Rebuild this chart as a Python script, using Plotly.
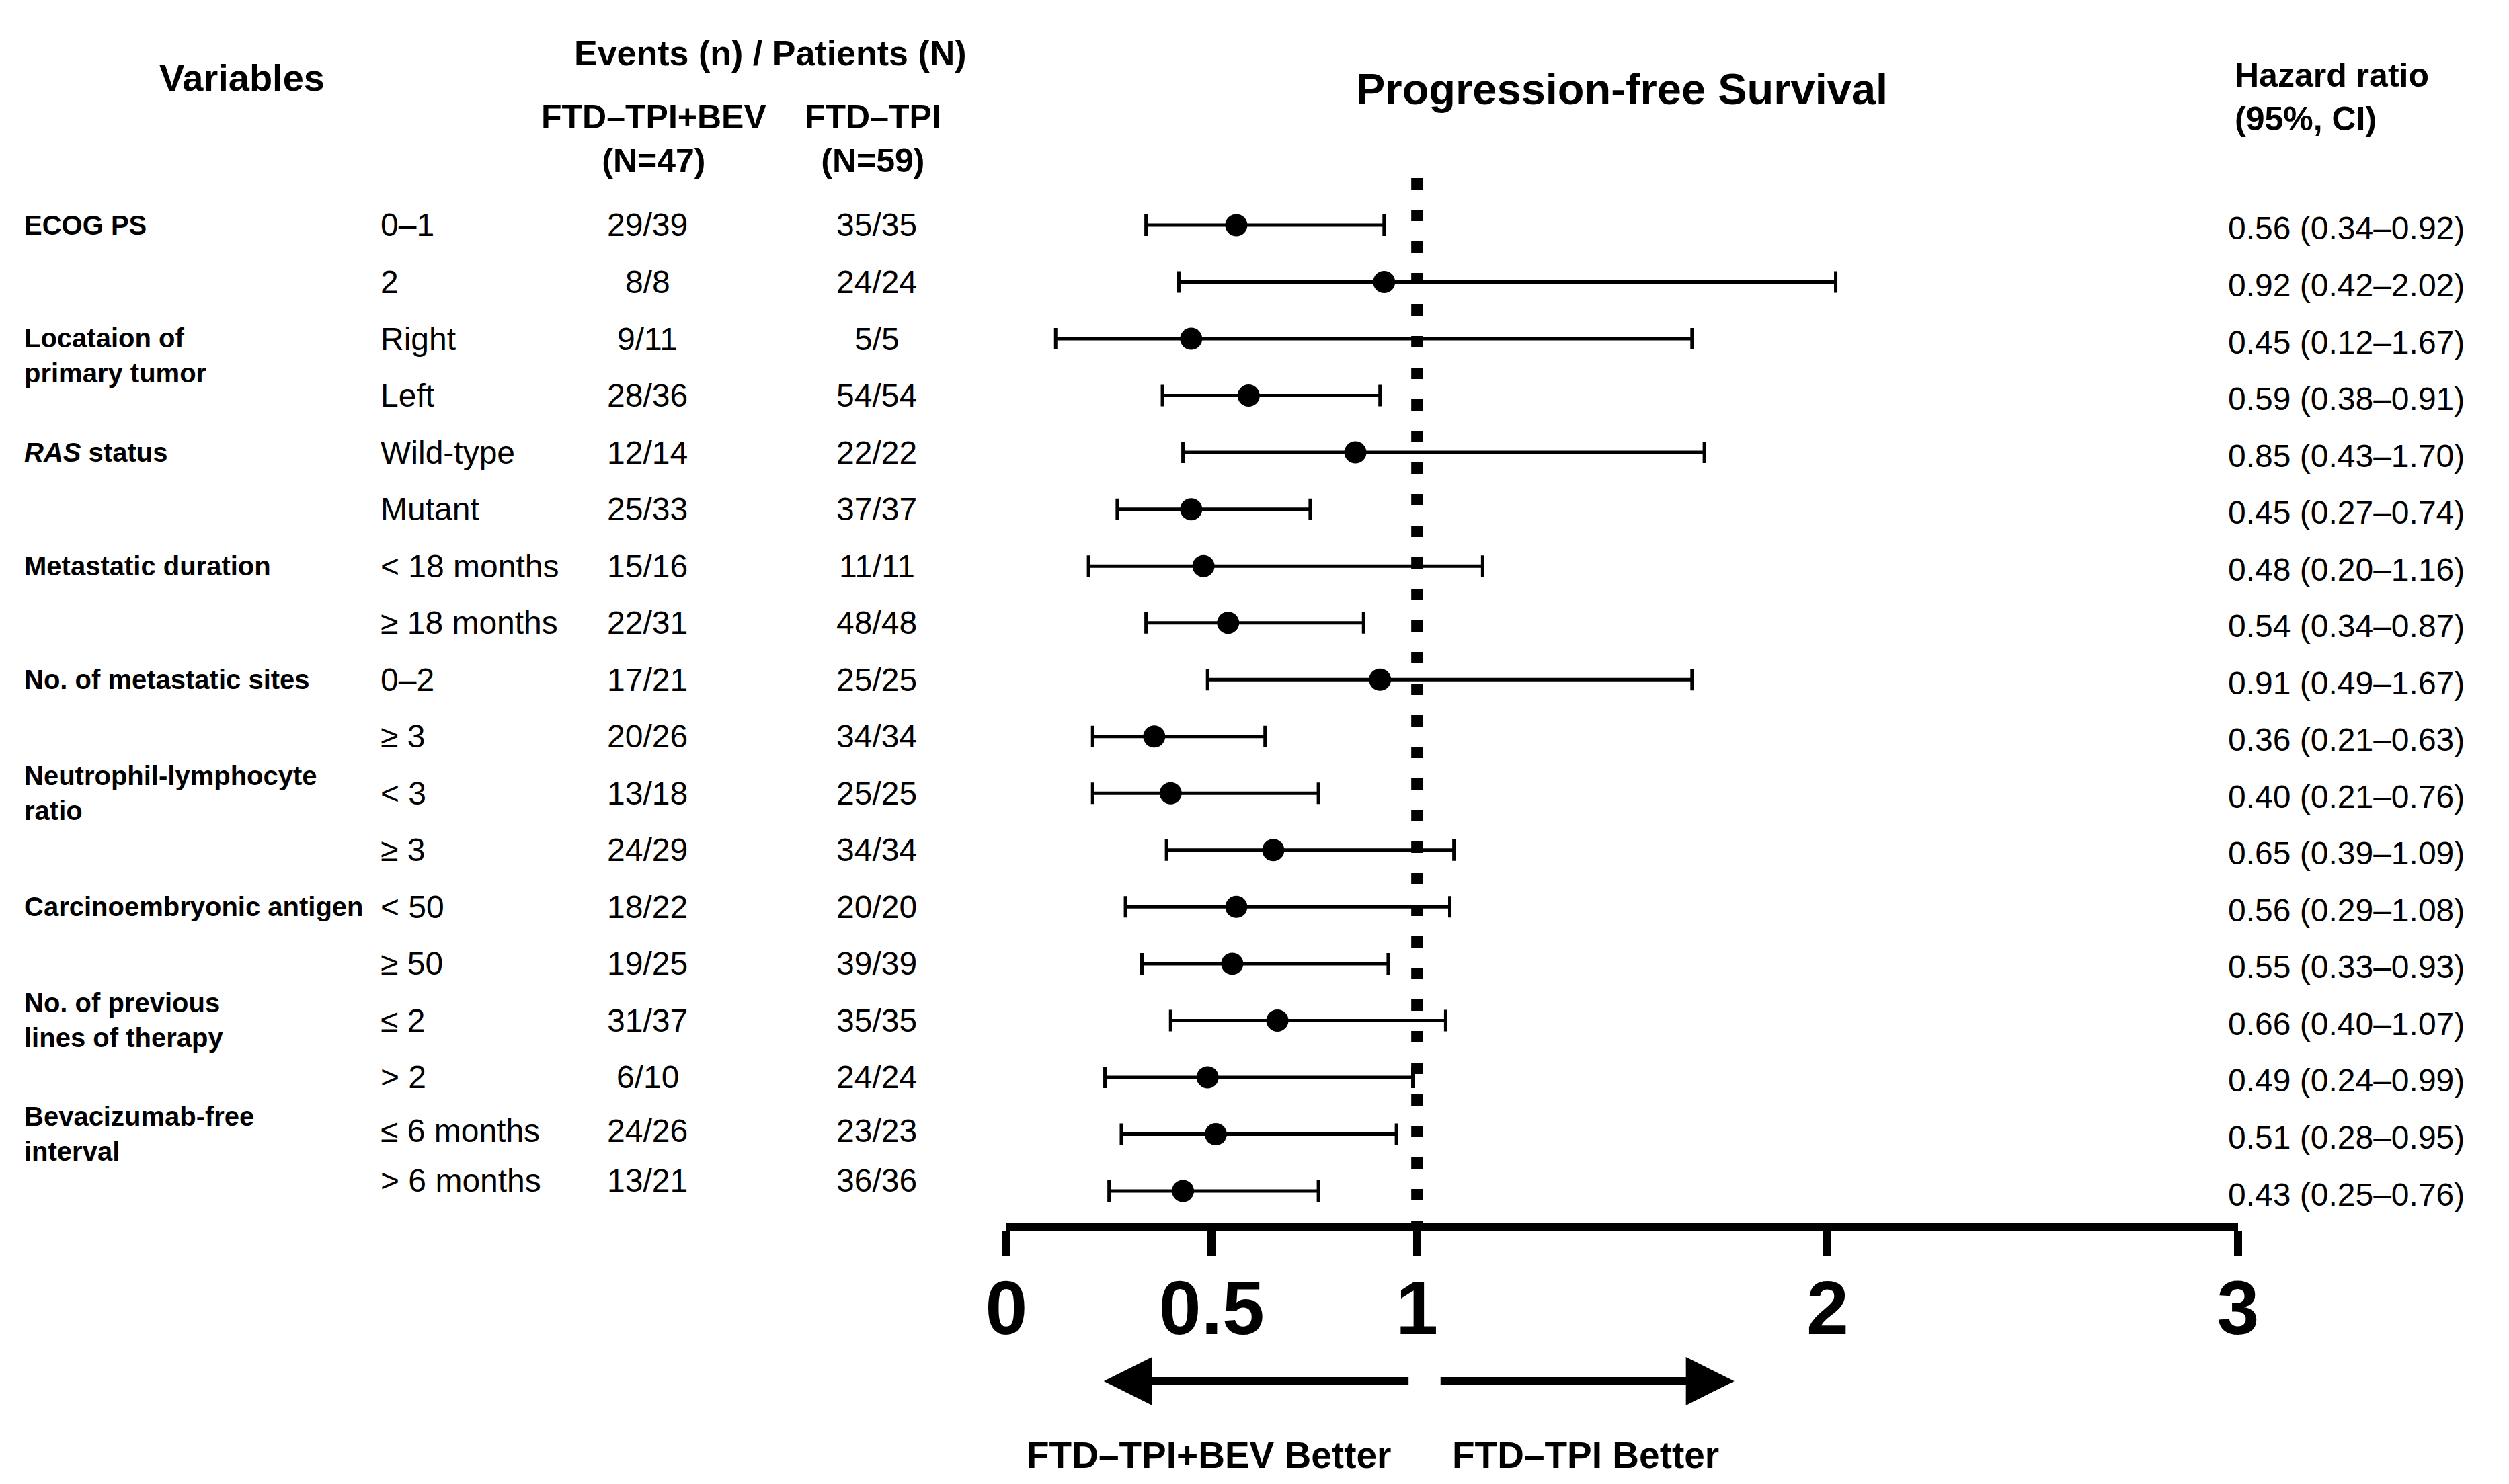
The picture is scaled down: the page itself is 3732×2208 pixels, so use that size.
import plotly.graph_objects as go

# ---------------- data ----------------
group_labels = ["ECOG PS", "Locataion of<br>primary tumor", "<i>RAS</i> status", "Metastatic duration",
                "No. of metastatic sites", "Neutrophil-lymphocyte<br>ratio", "Carcinoembryonic antigen",
                "No. of previous<br>lines of therapy", "Bevacizumab-free<br>interval"]
group_rows = [0, 2, 4, 6, 8, 10, 12, 14, 16]

subgroups = ["0–1", "2", "Right", "Left", "Wild-type", "Mutant", "< 18 months", "≥ 18 months",
             "0–2", "≥ 3", "< 3", "≥ 3", "< 50", "≥ 50", "≤ 2", "> 2", "≤ 6 months", "> 6 months"]
events_bev = ["29/39", "8/8", "9/11", "28/36", "12/14", "25/33", "15/16", "22/31", "17/21",
              "20/26", "13/18", "24/29", "18/22", "19/25", "31/37", "6/10", "24/26", "13/21"]
events_tpi = ["35/35", "24/24", "5/5", "54/54", "22/22", "37/37", "11/11", "48/48", "25/25",
              "34/34", "25/25", "34/34", "20/20", "39/39", "35/35", "24/24", "23/23", "36/36"]
hr = [0.56, 0.92, 0.45, 0.59, 0.85, 0.45, 0.48, 0.54, 0.91, 0.36, 0.40, 0.65, 0.56, 0.55, 0.66, 0.49, 0.51, 0.43]
ci_low = [0.34, 0.42, 0.12, 0.38, 0.43, 0.27, 0.20, 0.34, 0.49, 0.21, 0.21, 0.39, 0.29, 0.33, 0.40, 0.24, 0.28, 0.25]
ci_high = [0.92, 2.02, 1.67, 0.91, 1.70, 0.74, 1.16, 0.87, 1.67, 0.63, 0.76, 1.09, 1.08, 0.93, 1.07, 0.99, 0.95, 0.76]

tick_vals = [0, 0.5, 1, 2, 3]
tick_text = ["0", "0.5", "1", "2", "3"]
ref_value = 1

# ---------------- layout constants ----------------
W, H = 3732, 2208
FONT = "Liberation Sans, Arial, Helvetica, sans-serif"
rows = list(range(len(hr)))


def px(xp):
    return xp / W


def py(yp):
    return 1 - yp / H


fig = go.Figure()
fig.add_trace(go.Scatter(
    x=hr, y=rows, mode="markers",
    marker=dict(size=33, color="black"),
    error_x=dict(type="data", symmetric=False,
                 array=[u - m for u, m in zip(ci_high, hr)],
                 arrayminus=[m - l for m, l in zip(hr, ci_low)],
                 color="black", thickness=5, width=16),
    cliponaxis=False, hoverinfo="skip", showlegend=False,
))

# reference dotted line at HR = 1
fig.add_shape(type="line", x0=ref_value, x1=ref_value, xref="x", y0=1, y1=0, yref="y domain",
              line=dict(color="black", width=17, dash="17px,30px"), layer="below")

ann = []


def text(t, x, y, size, xanchor="center", yref="paper", yshift=0, align="center"):
    ann.append(dict(text=t, x=x, y=y, xref="paper", yref=yref, xanchor=xanchor, yanchor="middle",
                    showarrow=False, yshift=yshift, align=align,
                    font=dict(family=FONT, size=size, color="black")))


# headers
text("<b>Variables</b>", px(352), py(107), 56)
text("<b>Events (n) / Patients (N)</b>", px(1138), py(71), 52)
text("<b>FTD–TPI+BEV<br>(N=47)</b>", px(964), py(199), 50)
text("<b>FTD–TPI<br>(N=59)</b>", px(1290), py(199), 50)
text("<b>Progression-free Survival</b>", px(2404), py(124), 65)
text("<b>Hazard ratio<br>(95%, CI)</b>", px(3314), py(136), 50, xanchor="left", align="left")

# group labels
for g, r in zip(group_labels, group_rows):
    shift = -25 if r == 2 else 0
    text("<b>" + g + "</b>", px(26), r, 40, xanchor="left", yref="y", yshift=shift, align="left")

row_shift = {16: 5, 17: 16}
for i in rows:
    s = row_shift.get(i, 0)
    text(subgroups[i], px(556), i, 48, xanchor="left", yref="y", yshift=s)
    text(events_bev[i], px(955), i, 48, yref="y", yshift=s)
    text(events_tpi[i], px(1296), i, 48, yref="y", yshift=s)
    text(f"{hr[i]:.2f} ({ci_low[i]:.2f}–{ci_high[i]:.2f})", px(3304), i, 48, xanchor="left",
         yref="y", yshift=-5)

# direction arrows
arrow_y = py(2047)
for tip, tail in [(0.237, 0.982), (1.773, 1.055)]:
    ann.append(dict(x=tip, y=arrow_y, xref="x", yref="paper", ax=tail, ay=0, axref="x", ayref="pixel",
                    showarrow=True, arrowhead=2, arrowsize=1.2, arrowwidth=12, arrowcolor="black", text=""))
text("<b>FTD–TPI+BEV Better</b>", px(1790), py(2157), 55)
text("<b>FTD–TPI Better</b>", px(2350), py(2157), 55)

fig.update_layout(
    width=W, height=H, margin=dict(l=0, r=0, t=0, b=0),
    paper_bgcolor="white", plot_bgcolor="white", showlegend=False,
    annotations=ann,
    xaxis=dict(domain=[1489 / W, 3321 / W], range=[0, 3], showline=True, linewidth=12, linecolor="black",
               ticks="outside", ticklen=38, tickwidth=12, tickcolor="black",
               tickvals=tick_vals, ticktext=tick_text, ticklabelstandoff=-20,
               tickfont=dict(family=FONT, size=113, color="black", weight="bold"),
               showgrid=False, zeroline=False, automargin=False, fixedrange=True),
    yaxis=dict(domain=[py(1811), py(257)], range=[17.556, -0.828], visible=False,
               showgrid=False, zeroline=False, automargin=False, fixedrange=True),
)

fig.write_html("out.html")
